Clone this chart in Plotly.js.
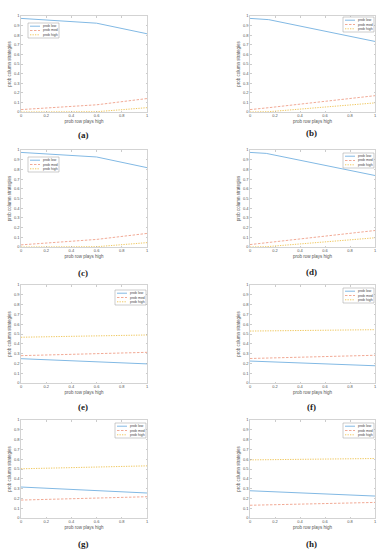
<!DOCTYPE html>
<html>
<head>
<meta charset="utf-8">
<script src="https://cdn.plot.ly/plotly-3.0.1.min.js"></script>
<style>html,body{margin:0;padding:0;background:#fff;}#chart{width:384px;height:550px;}</style>
</head>
<body>
<div id="chart"></div>
<script>
// ---- data ----
const panelLabels = ['(a)', '(b)', '(c)', '(d)', '(e)', '(f)', '(g)', '(h)'];
const seriesNames = ['prob low', 'prob med', 'prob high'];
const xTickVals = [0, 0.2, 0.4, 0.6, 0.8, 1];
const xTickText = ['0', '0.2', '0.4', '0.6', '0.8', '1'];
const yTickVals = [0, 0.1, 0.2, 0.3, 0.4, 0.5, 0.6, 0.7, 0.8, 0.9, 1];
const yTickText = ['0', '0.1', '0.2', '0.3', '0.4', '0.5', '0.6', '0.7', '0.8', '0.9', '1'];

const xA = [0, 0.6, 1];
const lowA = [0.975, 0.925, 0.815];
const medA = [0.025, 0.075, 0.14];
const highA = [0, 0.003, 0.045];

const xB = [0, 0.15, 1];
const lowB = [0.975, 0.962, 0.735];
const medB = [0.025, 0.045, 0.17];
const highB = [0, 0.003, 0.095];

const xC = [0, 0.6, 1];
const lowC = [0.975, 0.928, 0.818];
const medC = [0.022, 0.078, 0.14];
const highC = [0, 0.003, 0.045];

const xD = [0, 0.13, 1];
const lowD = [0.975, 0.965, 0.737];
const medD = [0.025, 0.043, 0.17];
const highD = [0, 0.003, 0.095];

const xE = [0, 1];
const lowE = [0.248, 0.195];
const medE = [0.279, 0.313];
const highE = [0.467, 0.49];

const xF = [0, 1];
const lowF = [0.224, 0.176];
const medF = [0.25, 0.283];
const highF = [0.53, 0.544];

const xG = [0, 1];
const lowG = [0.316, 0.255];
const medG = [0.183, 0.217];
const highG = [0.502, 0.532];

const xH = [0, 1];
const lowH = [0.278, 0.224];
const medH = [0.13, 0.159];
const highH = [0.593, 0.607];

const panelData = [
  [xA, lowA, medA, highA], [xB, lowB, medB, highB],
  [xC, lowC, medC, highC], [xD, lowD, medD, highD],
  [xE, lowE, medE, highE], [xF, lowF, medF, highF],
  [xG, lowG, medG, highG], [xH, lowH, medH, highH]
];

// ---- styling / layout ----
const W = 384, H = 550;
const px = v => v / W;
const py = v => 1 - v / H;
const colors = ['#82b9e4', '#ef a08a'.replace(' ', ''), '#f0c860'];
const dashes = ['solid', '2.5px,1.5px', '1.3px,1.2px'];
const widths = [1, 0.9, 1];
const SANS = 'Liberation Sans';

// pixel boxes of the plot areas [left, right, top, bottom]
const cols = [[21, 147], [250, 375]];
const rows = [[16, 112], [150, 247], [285, 383], [420, 518]];
// legend top-left pixel positions
const legendPos = [[28, 23], [343, 17], [28, 157], [343, 153], [115, 290], [343, 288], [115, 423], [343, 423]];
const captionPos = [[83, 135], [311, 133], [83, 273], [311, 272], [83, 407], [311, 407], [83, 544], [311, 544]];

const traces = [];
const layout = {
  width: W, height: H,
  margin: {l: 0, r: 0, t: 0, b: 0},
  paper_bgcolor: '#fff', plot_bgcolor: '#fff',
  showlegend: false,
  font: {family: SANS, color: '#555'},
  shapes: [], annotations: []
};

const fontTick = {size: 4, color: '#555', family: SANS};
const fontTitle = {size: 4.5, color: '#555', family: SANS};

panelData.forEach((pd, i) => {
  const c = cols[i % 2], r = rows[Math.floor(i / 2)];
  const n = i + 1;
  const xa = 'xaxis' + (n === 1 ? '' : n), ya = 'yaxis' + (n === 1 ? '' : n);
  const xr = 'x' + (n === 1 ? '' : n), yr = 'y' + (n === 1 ? '' : n);
  const common = {
    range: [0, 1], showgrid: false, zeroline: false, showline: true,
    linecolor: '#b5b5b5', linewidth: 0.6, mirror: 'ticks', ticks: 'inside',
    ticklen: 1.5, tickwidth: 0.5, tickcolor: '#999', tickfont: fontTick,
    tickmode: 'array', fixedrange: true
  };
  layout[xa] = Object.assign({}, common, {
    domain: [px(c[0]), px(c[1])], anchor: yr,
    tickvals: xTickVals, ticktext: xTickText,
    title: {text: 'prob row plays high', font: fontTitle, standoff: 2}
  });
  layout[ya] = Object.assign({}, common, {
    domain: [py(r[1]), py(r[0])], anchor: xr,
    tickvals: yTickVals, ticktext: yTickText,
    title: {text: 'prob column strategies', font: fontTitle, standoff: 2}
  });
  const xs = pd[0];
  for (let s = 0; s < 3; s++) {
    traces.push({
      x: xs, y: pd[s + 1], type: 'scatter', mode: 'lines', name: seriesNames[s],
      xaxis: xr, yaxis: yr, hoverinfo: 'skip',
      line: {color: colors[s], width: widths[s], dash: dashes[s]}
    });
  }
  // custom small legend box
  const L = legendPos[i];
  const bw = 31, bh = 15;
  layout.shapes.push({type: 'rect', xref: 'paper', yref: 'paper',
    x0: px(L[0]), x1: px(L[0] + bw), y0: py(L[1] + bh), y1: py(L[1]),
    line: {color: '#9a9a9a', width: 0.5}, fillcolor: '#fff', layer: 'above'});
  for (let s = 0; s < 3; s++) {
    const yy = L[1] + 3.2 + s * 4.3;
    layout.shapes.push({type: 'line', xref: 'paper', yref: 'paper',
      x0: px(L[0] + 2), x1: px(L[0] + 12), y0: py(yy), y1: py(yy),
      line: {color: colors[s], width: widths[s], dash: dashes[s]}, layer: 'above'});
    layout.annotations.push({xref: 'paper', yref: 'paper', x: px(L[0] + 13.5), y: py(yy),
      xanchor: 'left', yanchor: 'middle', showarrow: false, borderpad: 0,
      text: seriesNames[s], font: {size: 3.5, color: '#444', family: SANS}});
  }
  const cp = captionPos[i];
  layout.annotations.push({xref: 'paper', yref: 'paper', x: px(cp[0]), y: py(cp[1]),
    xanchor: 'center', yanchor: 'middle', showarrow: false,
    text: '<b>' + panelLabels[i] + '</b>',
    font: {size: 9, color: '#222', family: 'Liberation Serif'}});
});

Plotly.newPlot('chart', traces, layout, {staticPlot: true, displayModeBar: false});
</script>
</body>
</html>
